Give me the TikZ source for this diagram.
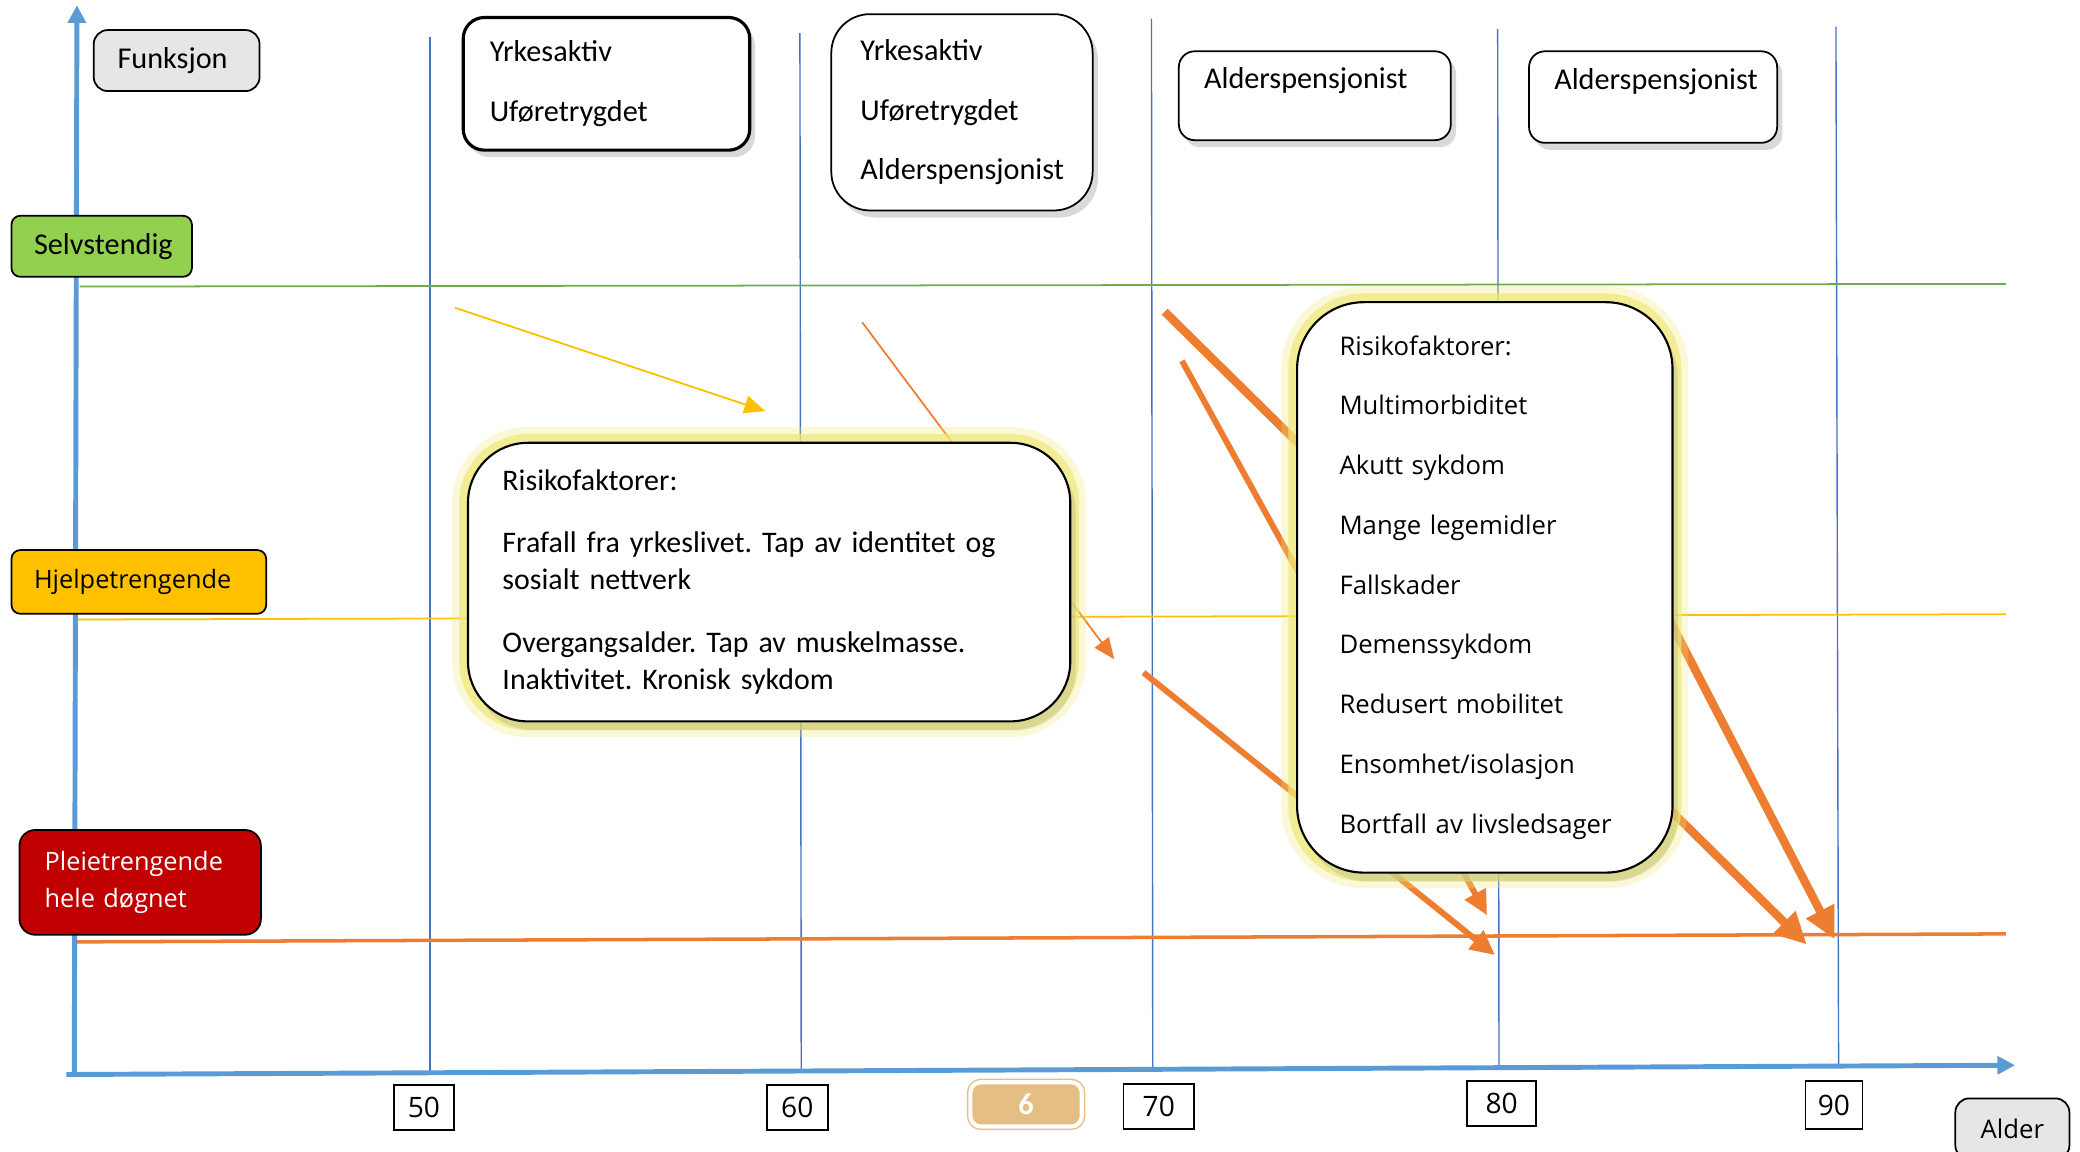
\documentclass[tikz,border=0pt]{standalone}
\usepackage{fontspec}
\setmainfont{Carlito}
\newfontfamily\osans{Open Sans}
\usetikzlibrary{arrows.meta,shadows}
\frenchspacing

\definecolor{axisblue}{HTML}{5B9BD5}
\definecolor{gridblue}{HTML}{4472C4}
\definecolor{lvlgreen}{HTML}{92D050}
\definecolor{linegreen}{HTML}{70AD47}
\definecolor{lvlyellow}{HTML}{FFC000}
\definecolor{lvlorange}{HTML}{ED7D31}
\definecolor{lvlred}{HTML}{C00000}
\definecolor{labelgray}{HTML}{E7E6E6}
\definecolor{numtan}{HTML}{E4BE84}
\definecolor{glowyel}{HTML}{EEE878}

\newcommand{\px}{0.013265cm}

\begin{document}
\begin{tikzpicture}[x=\px, y=-\px,
    lvlbox/.style={draw=black, line width=0.5pt, rounded corners=2.5pt, anchor=north west, align=left, inner ysep=0pt},
    topbox/.style={draw=black, line width=0.5pt, fill=white, anchor=north west, align=left, inner ysep=0pt,
        font=\fontsize{8.6}{17}\selectfont, drop shadow={shadow xshift=1.5pt, shadow yshift=-2pt, opacity=0.3}},
    riskbox/.style={draw=black, line width=0.6pt, fill=white, anchor=north west, align=left, inner ysep=0pt,
        preaction={draw=glowyel, line width=9pt, opacity=0.3},
        preaction={draw=glowyel, line width=5pt, opacity=0.7},
        drop shadow={shadow xshift=1.5pt, shadow yshift=-2.5pt, opacity=0.2}},
    numbox/.style={draw=black, line width=0.5pt, fill=white, inner sep=0pt, font=\osans\fontsize{8}{9}\selectfont},
    gridline/.style={gridblue, line width=0.4pt},
    axisline/.style={axisblue, line width=1.4pt, -{Triangle[length=5pt, width=5pt]}},
    thinarr/.style={line width=0.5pt, -{Triangle[length=6pt, width=5pt]}},
    thickarr/.style={lvlorange, line width=1.7pt, -{Triangle[length=7pt, width=6.5pt]}},
    bigarr/.style={lvlorange, line width=2.4pt, -{Triangle[length=9pt, width=8.5pt]}}]

    \useasboundingbox (0,0) rectangle (1568,868);

    \draw[gridline] (324,28) -- (324,808);
    \draw[gridline] (603,25) -- (604,808);
    \draw[gridline] (868,14) -- (869,806);
    \draw[gridline] (1129,22) -- (1130,805);
    \draw[gridline] (1384,20) -- (1386,805);

    \draw[linegreen, line width=0.5pt] (60,216) -- (1512,214);
    \draw[lvlyellow, line width=0.5pt] (58,467) -- (1512,463);
    \draw[lvlorange, line width=1pt] (57,710) -- (1512,704);

    \draw[axisline] (56,810) -- (58,4);
    \draw[axisline] (50,810) -- (1519,803);

    \coordinate (yel0) at (343,232);
    \coordinate (yel1) at (577,310);
    \coordinate (ora0) at (650,243);
    \coordinate (ora1) at (840,497);
    \coordinate (fall0) at (878,235);
    \coordinate (fall1) at (1362,712);
    \coordinate (steep0) at (891,272);
    \coordinate (steep1) at (1121,690);
    \coordinate (low0) at (862,507);
    \coordinate (low1) at (1127,720);
    \coordinate (late0) at (1190,335);
    \coordinate (late1) at (1383,708);

    \draw[thinarr, lvlyellow] (yel0) -- (yel1);
    \draw[thinarr, lvlorange] (ora0) -- (ora1);
    \draw[bigarr] (fall0) -- (fall1);
    \draw[thickarr] (steep0) -- (steep1);
    \draw[thickarr] (low0) -- (low1);
    \draw[bigarr] (late0) -- (late1);

    \node[lvlbox, fill=labelgray, rounded corners=4pt, minimum width=125*\px, minimum height=46*\px,
        text width=89*\px, inner xsep=18*\px, font=\fontsize{8.6}{10.5}\selectfont] (funksjon) at (70,22) {Funksjon};
    \node[lvlbox, fill=lvlgreen, minimum width=136*\px, minimum height=46*\px,
        text width=102*\px, inner xsep=17*\px, font=\fontsize{8.6}{10.5}\selectfont] (selvst) at (8,162) {Selvstendig};
    \node[lvlbox, fill=lvlyellow, minimum width=192*\px, minimum height=48*\px,
        text width=158*\px, inner xsep=17*\px, font=\osans\fontsize{7.2}{10.5}\selectfont] (hjelp) at (8,414) {Hjelpetrengende};
    \node[lvlbox, fill=lvlred, text=white, rounded corners=4.5pt, minimum width=182*\px, minimum height=79*\px,
        text width=144*\px, inner xsep=19*\px, font=\osans\fontsize{7.2}{10.5}\selectfont] (pleie) at (14,625) {Pleietrengende\\hele døgnet};

    \node[topbox, line width=0.9pt, rounded corners=6pt, minimum width=216*\px, minimum height=100*\px,
        text width=176*\px, inner xsep=20*\px] (status50) at (348,12) {Yrkesaktiv\\Uføretrygdet};
    \node[topbox, rounded corners=11pt, minimum width=197*\px, minimum height=148*\px,
        text width=153*\px, inner xsep=22*\px] (status60) at (626,10) {Yrkesaktiv\\Uføretrygdet\\Alderspensjonist};
    \node[topbox, rounded corners=4.5pt, minimum width=205*\px, minimum height=67*\px, text depth=10pt,
        text width=167*\px, inner xsep=19*\px] (status70) at (888,38) {Alderspensjonist};
    \node[topbox, rounded corners=4.5pt, minimum width=187*\px, minimum height=69*\px, text depth=10pt,
        text width=149*\px, inner xsep=19*\px] (status80) at (1152,38) {Alderspensjonist};

    \node[riskbox, rounded corners=17pt, minimum width=454*\px, minimum height=210*\px,
        text width=402*\px, inner xsep=26*\px, font=\fontsize{8.5}{10.5}\selectfont] (risk60) at (352,333)
        {Risikofaktorer:\\[7pt]Frafall fra yrkeslivet. Tap av identitet og\\sosialt nettverk\\[7.5pt]Overgangsalder. Tap av muskelmasse.\\Inaktivitet. Kronisk sykdom};
    \node[riskbox, rounded corners=19pt, minimum width=283*\px, minimum height=430*\px,
        text width=219*\px, inner xsep=32*\px, font=\osans\fontsize{7.3}{17}\selectfont] (risk80) at (977,227)
        {Risikofaktorer:\\Multimorbiditet\\Akutt sykdom\\Mange legemidler\\Fallskader\\Demenssykdom\\Redusert mobilitet\\Ensomhet/isolasjon\\Bortfall av livsledsager};

    \node[numbox, minimum width=45*\px, minimum height=34*\px] (n50) at (319.5,835) {50};
    \node[numbox, minimum width=46*\px, minimum height=34*\px] (n60) at (601,835) {60};
    \node[numbox, minimum width=53*\px, minimum height=34*\px] (n70) at (873.5,834) {70};
    \node[numbox, minimum width=52*\px, minimum height=34*\px] (n80) at (1132,832) {80};
    \node[numbox, minimum width=43*\px, minimum height=36*\px] (n90) at (1382.5,833) {90};

    \node[draw=numtan, double=white, double distance=1.2pt, fill=numtan, rounded corners=3pt, text=white,
        minimum width=84*\px, minimum height=32*\px, font=\bfseries\fontsize{8.6}{10}\selectfont] (page) at (773.5,832.5) {6};
    \node[lvlbox, fill=labelgray, rounded corners=4pt, anchor=center, align=center, minimum width=86*\px, minimum height=46*\px,
        font=\osans\fontsize{7.3}{9}\selectfont] (alder) at (1517,851) {Alder};

\end{tikzpicture}
\end{document}
